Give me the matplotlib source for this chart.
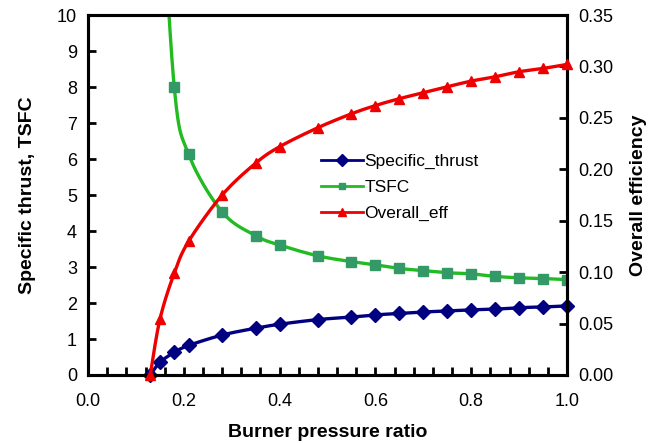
import numpy as np
import matplotlib.pyplot as plt
from matplotlib.ticker import MultipleLocator, FormatStrFormatter

# burner pressure ratio and the three series
ratio = [0.13, 0.15, 0.18, 0.21, 0.28, 0.35, 0.40, 0.48, 0.55, 0.60,
         0.65, 0.70, 0.75, 0.80, 0.85, 0.90, 0.95, 1.00]
specific_thrust = [0.0, 0.35, 0.63, 0.82, 1.11, 1.30, 1.41, 1.54, 1.61, 1.67,
                   1.71, 1.75, 1.78, 1.81, 1.83, 1.87, 1.89, 1.92]
tsfc_ratio = ratio[1:]
tsfc = [14.4, 8.0, 6.13, 4.53, 3.87, 3.61, 3.31, 3.15, 3.06,
        2.96, 2.90, 2.84, 2.81, 2.74, 2.70, 2.68, 2.65]
overall_eff = [0.0, 0.054, 0.099, 0.130, 0.175, 0.206, 0.222, 0.2405, 0.254, 0.262,
               0.2687, 0.2745, 0.2803, 0.2858, 0.290, 0.2949, 0.2981, 0.302]


def smooth(x, y, yspan, n=20):
    # excel style smoothed line (bezier through the points), done in screen proportions
    k = 0.75 / yspan
    p = np.column_stack([np.asarray(x, float), np.asarray(y, float) * k])
    p = np.vstack([p[0], p, p[-1]])
    out = []
    t = np.linspace(0, 1, n)[:, None]
    for i in range(1, len(p) - 2):
        a, b = p[i], p[i + 1]
        c1 = a + (p[i + 1] - p[i - 1]) / 6
        c2 = b - (p[i + 2] - p[i]) / 6
        seg = (1 - t) ** 3 * a + 3 * (1 - t) ** 2 * t * c1 + 3 * (1 - t) * t ** 2 * c2 + t ** 3 * b
        out.append(seg)
    out = np.vstack(out)
    return out[:, 0], out[:, 1] / k


plt.rcParams['font.family'] = ['Liberation Sans', 'DejaVu Sans']
label_font = dict(family=['Liberation Sans Narrow', 'Liberation Sans'], weight='bold', size=14)

fig = plt.figure(figsize=(6.57, 4.43), dpi=100)
ax = fig.add_axes([0.134, 0.1535, 0.729, 0.8125])
ax2 = ax.twinx()

navy = '#000080'
green_line = '#22BB22'
green_mk = '#339966'
red = '#EE0000'

sx, sy = smooth(ratio, specific_thrust, 10)
ax.plot(sx, sy, color=navy, lw=2.4)
ax.plot(ratio, specific_thrust, 'D', color=navy, ms=7, clip_on=False, zorder=5)

tx, ty = smooth(tsfc_ratio, tsfc, 10)
ax.plot(tx, ty, color=green_line, lw=2.4)
ax.plot(tsfc_ratio, tsfc, 's', color=green_mk, ms=6.5)

ex, ey = smooth(ratio, overall_eff, 0.35)
ax2.plot(ex, ey, color=red, lw=2.4)
ax2.plot(ratio, overall_eff, '^', color=red, ms=7, clip_on=False, zorder=5)

h1 = ax.plot([], [], '-D', color=navy, lw=2, ms=6, label='Specific_thrust')[0]
h2 = ax.plot([], [], '-s', color=green_line, mfc=green_mk, mec=green_mk, lw=2, ms=5, label='TSFC')[0]
h3 = ax.plot([], [], '-^', color=red, lw=2, ms=6, label='Overall_eff')[0]
ax2.legend(handles=[h1, h2, h3], loc='upper left', bbox_to_anchor=(314 / 657, 1 - 147 / 443),
           bbox_transform=fig.transFigure, frameon=False, fontsize=12.5,
           handlelength=2.4, handletextpad=0.1, labelspacing=0.62, borderaxespad=0)

ax.set_xlim(0, 1)
ax.set_ylim(0, 10)
ax2.set_ylim(0, 0.35)
ax.xaxis.set_major_locator(MultipleLocator(0.2))
ax.xaxis.set_minor_locator(MultipleLocator(0.04))
ax.xaxis.set_major_formatter(FormatStrFormatter('%.1f'))
ax.yaxis.set_major_locator(MultipleLocator(1))
ax2.yaxis.set_major_locator(MultipleLocator(0.05))
ax2.yaxis.set_major_formatter(FormatStrFormatter('%.2f'))

for a in (ax, ax2):
    for s in a.spines.values():
        s.set_linewidth(2.2)
    a.tick_params(which='both', direction='in', width=2, length=6, labelsize=13, pad=8)
ax.tick_params(axis='y', right=False)
ax.tick_params(axis='x', pad=13)

ax.set_xlabel('Burner pressure ratio', fontdict=label_font, labelpad=10)
ax.set_ylabel('Specific thrust, TSFC', fontdict=label_font, labelpad=15)
ax2.set_ylabel('Overall efficiency', fontdict=label_font, labelpad=12)

fig.savefig('out.png', dpi=100)
